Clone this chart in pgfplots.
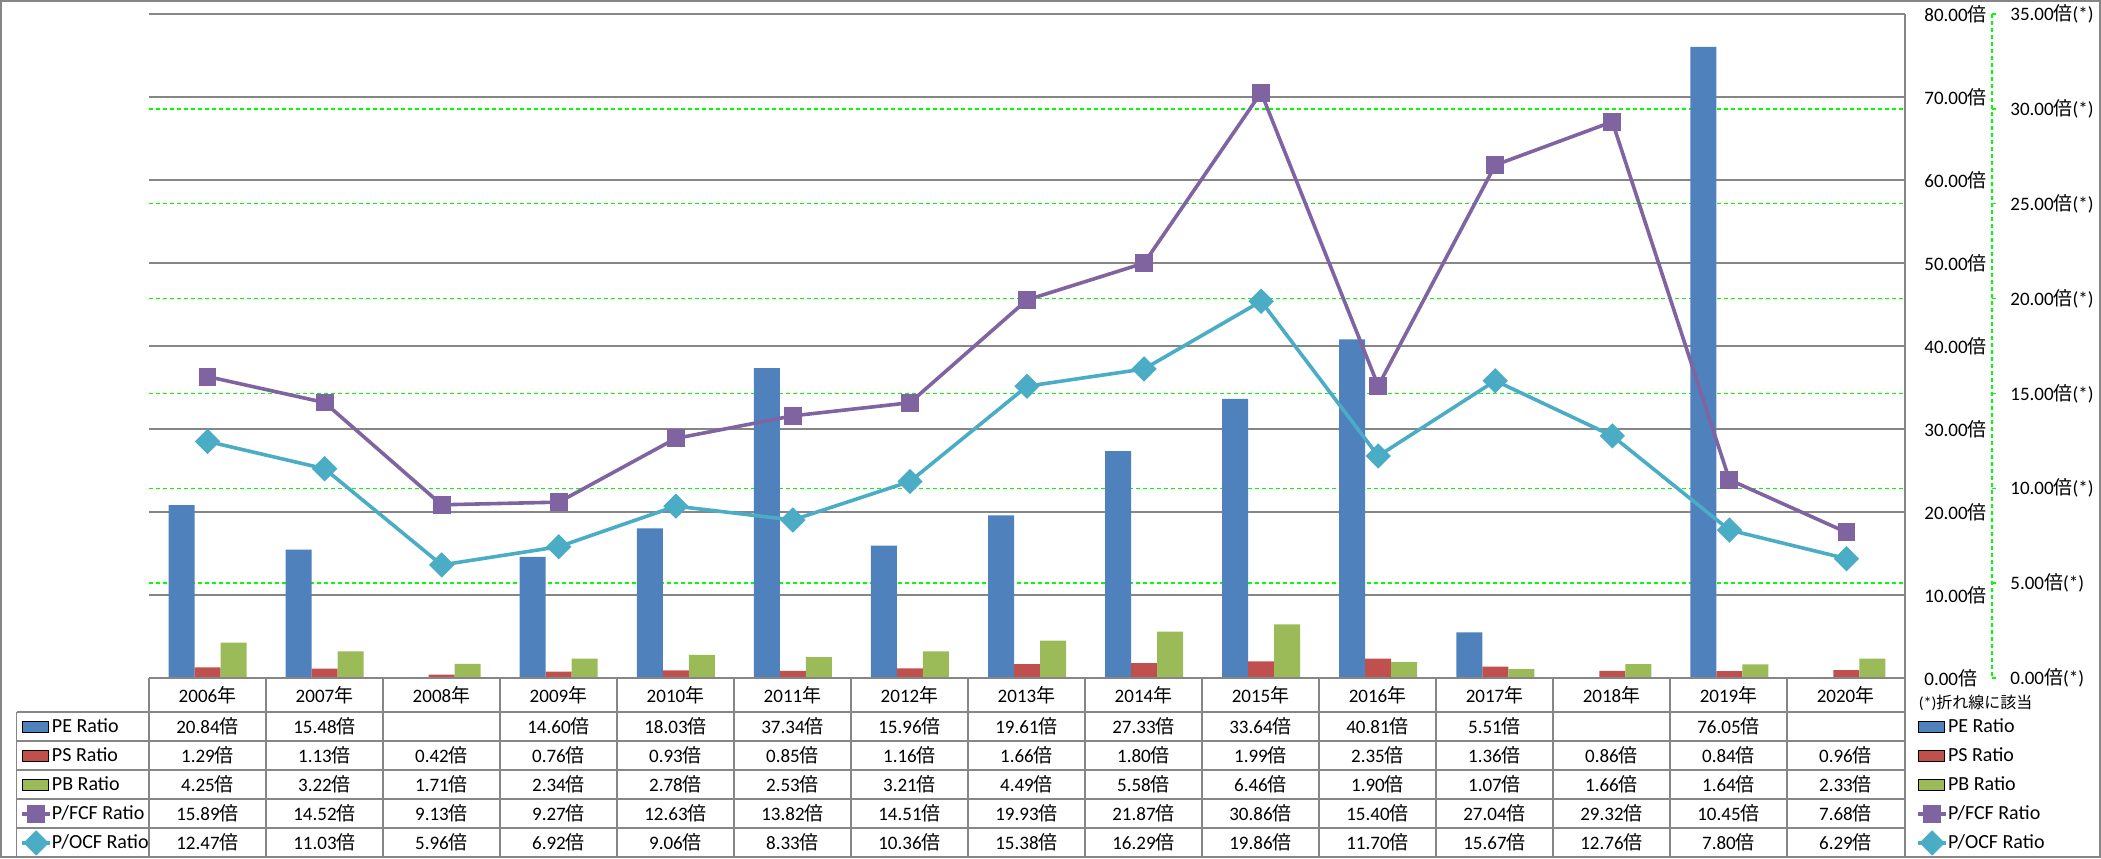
\documentclass[border=0pt]{standalone}
\usepackage{pgfplots}
\usepackage{pgfplotstable}
\pgfplotsset{compat=1.18}
\usepackage{fontspec}
\setmainfont{Carlito}
\newfontfamily\cjk{Noto Sans CJK JP}
\newcommand\bai{{\cjk 倍}}
\newcommand\nen{{\cjk 年}}
\newcommand\fs{\fontsize{9.5}{11}\selectfont}

\definecolor{peblue}{HTML}{4F81BD}
\definecolor{psred}{HTML}{C0504D}
\definecolor{pbgreen}{HTML}{9BBB59}
\definecolor{fcfpurple}{HTML}{8064A2}
\definecolor{ocfcyan}{HTML}{4BACC6}
\definecolor{gridgray}{HTML}{868686}
\definecolor{sgreen}{HTML}{00FF00}

% 2006..2020 -> 0..14
\pgfplotstableread{
yr  pe     ps    pb    fcf    ocf
0   20.84  1.29  4.25  15.89  12.47
1   15.48  1.13  3.22  14.52  11.03
2   nan    0.42  1.71  9.13   5.96
3   14.60  0.76  2.34  9.27   6.92
4   18.03  0.93  2.78  12.63  9.06
5   37.34  0.85  2.53  13.82  8.33
6   15.96  1.16  3.21  14.51  10.36
7   19.61  1.66  4.49  19.93  15.38
8   27.33  1.80  5.58  21.87  16.29
9   33.64  1.99  6.46  30.86  19.86
10  40.81  2.35  1.90  15.40  11.70
11  5.51   1.36  1.07  27.04  15.67
12  nan    0.86  1.66  29.32  12.76
13  76.05  0.84  1.64  10.45  7.80
14  nan    0.96  2.33  7.68   6.29
}\ratios

\pgfplotsset{
  panel/.style={at={(74.5pt,-339pt)}, anchor=south west, scale only axis,
    width=878pt, height=332pt, xmin=-0.5, xmax=14.5, xtick=\empty,
    axis line style={draw=none}, major tick length=0pt,
    yticklabel pos=right, ticklabel style={font=\fs},
    /pgf/number format/assume math mode=true},
  barleg/.style={legend image code/.code={\fill[##1] (0pt,-2.75pt) rectangle (13pt,2.75pt);}},
  lineleg/.style={legend image code/.code={\draw[##1,mark repeat=2,mark phase=2] plot coordinates {(0pt,0pt) (7pt,0pt) (14pt,0pt)};}},
  keys/.style={hide axis, scale only axis, width=100pt, height=72.5pt,
    xmin=0, xmax=1, ymin=0, ymax=1, anchor=north west, legend cell align=left,
    legend style={at={(0,1)}, anchor=north west, draw=none, fill=none,
      inner sep=0pt, row sep=0pt, font=\fontsize{10}{12}\selectfont,
      nodes={inner sep=0pt, text height=10.25pt, text depth=4.25pt},
      /tikz/every even column/.append style={column sep=0.5pt}}},
  fcfstyle/.style={color=fcfpurple, line width=1.8pt, mark=square*, mark size=4.1pt,
    mark options={solid, line width=0.75pt}},
  ocfstyle/.style={color=ocfcyan, line width=1.8pt, mark=square*, mark size=4.1pt,
    mark options={solid, line width=0.75pt, rotate=45}},
}

\newcommand\trow[2]{\foreach \v [count=\k from 0] in {#2} \node at ({149+117*(\k+0.5)},#1) {\v};}

\begin{document}
\begin{tikzpicture}
\begin{scope}[x=0.5pt, y=-0.5pt]
\useasboundingbox (0,0) rectangle (2101,858);
\end{scope}

% primary axis: bars
\begin{axis}[panel, ymin=0, ymax=80, ytick={0,10,...,80},
  ymajorgrids, major grid style={draw=gridgray, line width=0.75pt},
  extra y ticks={11.4286,22.8571,34.2857,45.7143,57.1429,68.5714},
  extra y tick labels={},
  extra y tick style={grid=major, yticklabel={},
    major grid style={draw=sgreen, line width=0.75pt, dash pattern=on 2pt off 1.5pt}},
  yticklabel={\pgfmathprintnumber[fixed,fixed zerofill,precision=2]{\tick}\bai},
  yticklabel style={anchor=west, inner sep=0pt, xshift=9.5pt},
  ybar=0pt, bar width=13pt]
\addplot[fill=peblue, draw=none] table[x=yr, y=pe] {\ratios};
\addplot[fill=psred, draw=none] table[x=yr, y=ps] {\ratios};
\addplot[fill=pbgreen, draw=none] table[x=yr, y=pb] {\ratios};
\end{axis}

% secondary axis: lines
\begin{axis}[panel, ymin=0, ymax=35, ytick={0,5,...,35}, clip=false,
  yticklabel={\pgfmathprintnumber[fixed,fixed zerofill,precision=2]{\tick}\bai(*)},
  yticklabel style={anchor=west, inner sep=0pt, xshift=52.5pt}]
\addplot[fcfstyle] table[x=yr, y=fcf] {\ratios};
\addplot[ocfstyle] table[x=yr, y=ocf] {\ratios};
\end{axis}

% legend keys in the data table
\begin{axis}[keys, at={(10pt,-356pt)}]
\addlegendimage{barleg, fill=peblue}\addlegendentry{PE Ratio}
\addlegendimage{barleg, fill=psred}\addlegendentry{PS Ratio}
\addlegendimage{barleg, fill=pbgreen}\addlegendentry{PB Ratio}
\addlegendimage{lineleg, fcfstyle}\addlegendentry{P/FCF Ratio}
\addlegendimage{lineleg, ocfstyle}\addlegendentry{P/OCF Ratio}
\end{axis}

% legend on the right
\begin{axis}[keys, at={(958pt,-356pt)}]
\addlegendimage{barleg, fill=peblue}\addlegendentry{PE Ratio}
\addlegendimage{barleg, fill=psred}\addlegendentry{PS Ratio}
\addlegendimage{barleg, fill=pbgreen}\addlegendentry{PB Ratio}
\addlegendimage{lineleg, fcfstyle}\addlegendentry{P/FCF Ratio}
\addlegendimage{lineleg, ocfstyle}\addlegendentry{P/OCF Ratio}
\end{axis}

\begin{scope}[x=0.5pt, y=-0.5pt, line width=0.75pt, every node/.style={font=\fs, inner sep=0pt}]
\draw[gridgray] (1,1) rectangle (2100,857);
\draw[gridgray] (149,678) -- (1905,678);
\foreach \y in {712,741,770,799,828} \draw[gridgray] (16.5,\y) -- (1905,\y);
\foreach \k in {0,...,14} \draw[gridgray] ({149+117*\k},678) -- ({149+117*\k},857);
\draw[gridgray] (16.5,712) -- (16.5,857);
\draw[gridgray] (1905,14) -- (1905,857);
% secondary axis line
\draw[sgreen, dash pattern=on 2pt off 1.5pt] (1992,14) -- (1992,678);
\foreach \k in {0,...,7} \draw[sgreen] (1992,{678-664*\k/7}) -- (1996,{678-664*\k/7});
% header and cells
\foreach \v [count=\k from 0] in {2006,...,2020} \node at ({149+117*(\k+0.5)},695.5) {\v\nen};
\trow{726.5}{20.84\bai,15.48\bai,{},14.60\bai,18.03\bai,37.34\bai,15.96\bai,19.61\bai,27.33\bai,33.64\bai,40.81\bai,5.51\bai,{},76.05\bai,{}}
\trow{755.5}{1.29\bai,1.13\bai,0.42\bai,0.76\bai,0.93\bai,0.85\bai,1.16\bai,1.66\bai,1.80\bai,1.99\bai,2.35\bai,1.36\bai,0.86\bai,0.84\bai,0.96\bai}
\trow{784.5}{4.25\bai,3.22\bai,1.71\bai,2.34\bai,2.78\bai,2.53\bai,3.21\bai,4.49\bai,5.58\bai,6.46\bai,1.90\bai,1.07\bai,1.66\bai,1.64\bai,2.33\bai}
\trow{813.5}{15.89\bai,14.52\bai,9.13\bai,9.27\bai,12.63\bai,13.82\bai,14.51\bai,19.93\bai,21.87\bai,30.86\bai,15.40\bai,27.04\bai,29.32\bai,10.45\bai,7.68\bai}
\trow{842.5}{12.47\bai,11.03\bai,5.96\bai,6.92\bai,9.06\bai,8.33\bai,10.36\bai,15.38\bai,16.29\bai,19.86\bai,11.70\bai,15.67\bai,12.76\bai,7.80\bai,6.29\bai}
\node[anchor=west, font=\fontsize{8}{9}\selectfont] at (1918,703) {(*){\cjk 折れ線に該当}};
\end{scope}
\end{tikzpicture}
\end{document}
